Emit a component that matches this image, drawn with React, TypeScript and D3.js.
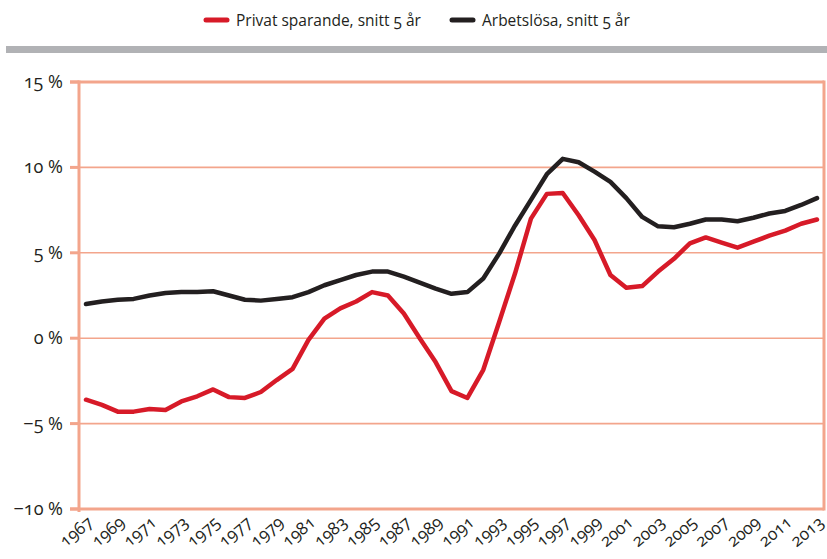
import * as d3 from "d3";

const years = d3.range(1967, 2014);

// Privat sparande, snitt 5 år (%)
const savings = [
  -3.6, -3.9, -4.3, -4.3, -4.15, -4.2, -3.7, -3.4, -3.0, -3.45, -3.5, -3.15,
  -2.45, -1.8, -0.1, 1.15, 1.75, 2.15, 2.7, 2.5, 1.45, 0.0, -1.4, -3.1, -3.5,
  -1.85, 0.95, 3.8, 7.0, 8.45, 8.5, 7.2, 5.75, 3.7, 2.95, 3.05, 3.9, 4.65, 5.55,
  5.9, 5.6, 5.3, 5.65, 6.0, 6.3, 6.7, 6.95,
];

// Arbetslösa, snitt 5 år (%)
const unemployment = [
  2.0, 2.15, 2.25, 2.3, 2.5, 2.65, 2.7, 2.7, 2.75, 2.5, 2.25, 2.2, 2.3, 2.4,
  2.7, 3.1, 3.4, 3.7, 3.9, 3.9, 3.6, 3.25, 2.9, 2.6, 2.7, 3.5, 4.95, 6.6, 8.1,
  9.6, 10.5, 10.3, 9.75, 9.15, 8.2, 7.1, 6.55, 6.5, 6.7, 6.95, 6.95, 6.85, 7.05,
  7.3, 7.45, 7.8, 8.2,
];

const yTicks = [-10, -5, 0, 5, 10, 15];
const xLabels = years.filter((y) => (y - 1967) % 2 === 0);

const series = [
  { name: "Privat sparande, snitt 5 år", values: savings, color: "#d71a28" },
  { name: "Arbetslösa, snitt 5 år", values: unemployment, color: "#231f20" },
];

const W = 827;
const H = 559;
const left = 79;
const right = 824;
const top = 82;
const bottom = 509;
const axisColor = "#f3a58c";
const font = "'Open Sans', 'Noto Sans', sans-serif";

export default function App() {
  const x = d3.scalePoint<number>().domain(years).range([86, 817]);
  const y = d3.scaleLinear().domain([-10, 15]).range([bottom, top]);
  const line = d3
    .line<number>()
    .x((_, i) => x(years[i]) as number)
    .y((d) => y(d));

  return (
    <div style={{ position: "absolute", left: 0, top: 0, width: W, height: H, background: "#fff" }}>
      <svg width={W} height={H} style={{ fontFamily: font, fontVariantNumeric: "oldstyle-nums" }}>
        {/* legend */}
        {series.map((s, i) => {
          const lx = i === 0 ? 206 : 452;
          return (
            <g key={s.name}>
              <line x1={lx} x2={lx + 21} y1={20} y2={20} stroke={s.color} strokeWidth={5} strokeLinecap="round" />
              <text x={lx + 30} y={25.5} fontSize={15.5} fill="#231f20">
                {s.name}
              </text>
            </g>
          );
        })}
        <rect x={6} y={46} width={W - 6} height={7} fill="#b1b2b5" />

        {/* grid */}
        {yTicks.map((t) => {
          const frame = t === 15 || t === -10;
          return (
            <g key={t}>
              <line
                x1={70}
                x2={right}
                y1={y(t)}
                y2={y(t)}
                stroke={axisColor}
                strokeWidth={frame ? 3 : 1.6}
              />
              <line x1={70} x2={left} y1={y(t)} y2={y(t)} stroke={axisColor} strokeWidth={3} />
              <text x={63} y={y(t) + 6} textAnchor="end" fontSize={18} fill="#231f20">
                {t < 0 ? `\u2212${Math.abs(t)} %` : `${t} %`}
              </text>
            </g>
          );
        })}
        <line x1={left} x2={left} y1={top - 1.5} y2={bottom + 3} stroke={axisColor} strokeWidth={3} />
        <line x1={right} x2={right} y1={top - 1.5} y2={bottom + 1.5} stroke={axisColor} strokeWidth={3} />

        {/* x labels */}
        {xLabels.map((yr) => (
          <text
            key={yr}
            transform={`translate(${(x(yr) as number) + 8},${bottom + 15}) rotate(-40)`}
            textAnchor="end"
            fontSize={17}
            fill="#231f20"
          >
            {yr}
          </text>
        ))}

        {/* lines */}
        {series.map((s) => (
          <path
            key={s.name}
            d={line(s.values) as string}
            fill="none"
            stroke={s.color}
            strokeWidth={4.5}
            strokeLinejoin="round"
            strokeLinecap="round"
          />
        ))}
      </svg>
    </div>
  );
}
